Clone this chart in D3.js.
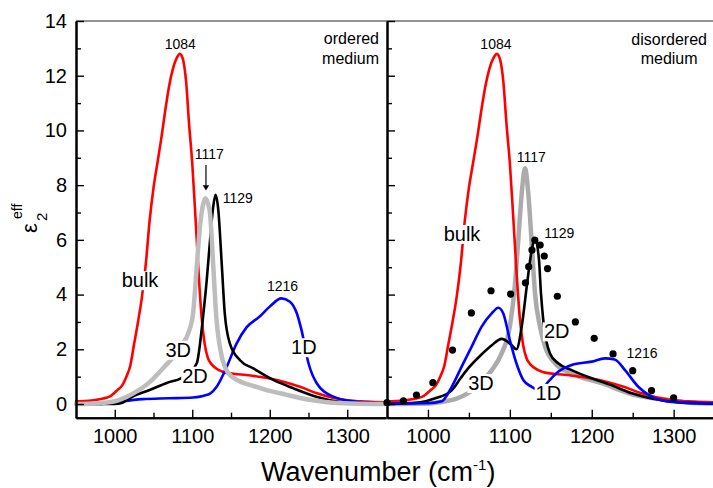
<!DOCTYPE html>
<html>
<head>
<meta charset="utf-8">
<script src="https://cdn.jsdelivr.net/npm/d3@7"></script>
<style>
  html, body { margin: 0; padding: 0; background: #fff; }
  svg { display: block; }
</style>
</head>
<body>
<div id="chart"></div>
<script>
// ---------------- DATA ----------------
// bulk (same curve in both panels)
const wBulk = [950, 970, 985, 995, 1003, 1010, 1015, 1020, 1025, 1030, 1035, 1040, 1045, 1050, 1055, 1060, 1065, 1070, 1075, 1080, 1084, 1088, 1092, 1096, 1100, 1104, 1108, 1112, 1116, 1120, 1125, 1130, 1140, 1155, 1170, 1185, 1200, 1220, 1240, 1260, 1280, 1300, 1325, 1350];
const vBulk = [0.10, 0.13, 0.2, 0.3, 0.5, 0.7, 1.0, 1.4, 2.2, 3.0, 3.9, 5.1, 6.7, 7.9, 8.8, 9.7, 10.7, 11.6, 12.25, 12.65, 12.8, 12.6, 11.8, 10.2, 8.8, 6.9, 4.9, 3.2, 2.2, 1.7, 1.45, 1.32, 1.17, 1.1, 1.06, 1.0, 0.93, 0.8, 0.62, 0.4, 0.24, 0.14, 0.09, 0.06];

// ordered medium
const wOrd3D = [950, 980, 1000, 1020, 1045, 1062, 1075, 1085, 1095, 1101, 1106, 1110, 1114, 1117, 1120, 1123, 1127, 1131, 1138, 1146, 1160, 1180, 1196, 1220, 1239, 1260, 1282, 1320, 1350];
const vOrd3D = [0.0, 0.03, 0.1, 0.33, 0.8, 1.3, 1.7, 2.1, 2.6, 3.3, 5.1, 6.5, 7.3, 7.52, 7.35, 6.95, 5.1, 3.2, 1.75, 1.15, 0.85, 0.65, 0.51, 0.35, 0.22, 0.12, 0.05, 0.01, 0.0];
const wOrd2D = [950, 1000, 1010, 1023, 1045, 1067, 1086, 1096, 1106, 1110, 1114, 1118.6, 1123, 1127, 1130, 1133.6, 1138, 1142, 1148.7, 1161.6, 1178.8, 1204.6, 1230, 1260, 1290, 1320, 1350];
const vOrd2D = [0.0, 0.0, 0.05, 0.27, 0.51, 0.77, 0.95, 1.15, 1.5, 2.2, 3.2, 4.5, 6.0, 7.2, 7.65, 7.1, 5.14, 3.3, 2.2, 1.6, 1.3, 0.88, 0.58, 0.27, 0.08, 0.02, 0.0];
const wOrd1D = [950, 980, 994, 1010, 1036, 1070, 1101, 1110, 1118, 1123, 1131.5, 1144.5, 1157, 1170, 1187, 1200, 1215, 1226, 1235, 1241, 1250, 1260.6, 1282, 1307, 1342, 1350];
const vOrd1D = [0.0, 0.0, 0.03, 0.1, 0.18, 0.21, 0.24, 0.27, 0.33, 0.38, 0.63, 1.36, 2.2, 2.8, 3.2, 3.56, 3.86, 3.74, 3.31, 2.7, 1.49, 0.76, 0.27, 0.1, 0.03, 0.02];

// disordered medium
const wDis3D = [950, 1000, 1021, 1035, 1049, 1060, 1070, 1078, 1090, 1100, 1106, 1110, 1114.5, 1118.5, 1122.5, 1126.7, 1130.7, 1136.8, 1143, 1155, 1175.5, 1212, 1252.7, 1293, 1320, 1350];
const vDis3D = [0.0, 0.02, 0.1, 0.2, 0.4, 0.65, 0.95, 1.24, 1.85, 2.83, 4.29, 5.87, 7.7, 8.62, 7.7, 5.87, 4.05, 2.83, 2.1, 1.49, 1.12, 0.76, 0.33, 0.15, 0.05, 0.02];
const wDis2D = [950, 988, 1008, 1029, 1040, 1049, 1065, 1078, 1090, 1102, 1108, 1114.5, 1120.6, 1126.7, 1130.7, 1135.6, 1138, 1140.8, 1149, 1159, 1175.5, 1200, 1224, 1248.8, 1273, 1310, 1350];
const vDis2D = [0.0, 0.05, 0.2, 0.5, 0.95, 1.3, 1.8, 2.15, 2.38, 2.16, 2.0, 2.83, 4.29, 5.63, 6.06, 5.26, 4.05, 3.07, 1.85, 1.49, 1.24, 0.94, 0.69, 0.39, 0.2, 0.05, 0.01];
const wDis1D = [950, 1000, 1016.8, 1029, 1041, 1053.4, 1065.6, 1077.8, 1086, 1092, 1100, 1108, 1116.4, 1126.7, 1137, 1147, 1159, 1175.5, 1200, 1216, 1228, 1240.6, 1256.8, 1273, 1297.6, 1350];
const vDis1D = [0.02, 0.03, 0.1, 0.63, 1.36, 2.1, 2.83, 3.31, 3.52, 3.31, 2.34, 1.49, 0.88, 0.63, 0.5, 0.82, 1.18, 1.43, 1.55, 1.67, 1.63, 1.24, 0.63, 0.27, 0.08, 0.02];

// experimental points (disordered panel)
const wExp = [950, 970, 986, 1006, 1030, 1053, 1077, 1101, 1119, 1123, 1127, 1130.5, 1137, 1142, 1146, 1158, 1180, 1203, 1226, 1250, 1273, 1300];
const vExp = [0.05, 0.12, 0.33, 0.78, 1.97, 3.33, 4.14, 4.02, 4.43, 5.02, 5.63, 5.99, 5.81, 5.41, 4.95, 3.94, 3.0, 2.4, 1.83, 1.22, 0.49, 0.23];

// ticks
const xTicks = [1000, 1100, 1200, 1300];
const xMinor = [1050, 1150, 1250];
const yTicks = [0, 2, 4, 6, 8, 10, 12, 14];
const yMinor = [1, 3, 5, 7, 9, 11, 13];

// text
const xTitle = "Wavenumber (cm";
const xTitleSup = "-1";
const panelTitles = [["ordered", "medium"], ["disordered", "medium"]];

// ---------------- LAYOUT ----------------
const W = 713, H = 488;
const FONT = "'Liberation Sans', Arial, Helvetica, sans-serif";
const y = d3.scaleLinear().domain([-0.5, 14]).range([417.7, 21]);
const xL = d3.scaleLinear().domain([950, 1350]).range([76, 386]);
const xR = d3.scaleLinear().domain([950, 1350]).range([387, 714.6]);

const svg = d3.select("#chart").append("svg")
  .attr("width", W).attr("height", H)
  .attr("font-family", FONT);
svg.append("rect").attr("width", W).attr("height", H).attr("fill", "#fff");

const zip = (w, v) => w.map((d, i) => [d, v[i]]);

function drawLine(x, w, v, color, width) {
  const line = d3.line().x(d => x(d[0])).y(d => y(d[1])).curve(d3.curveMonotoneX);
  svg.append("path").datum(zip(w, v))
    .attr("d", line).attr("fill", "none")
    .attr("stroke", color).attr("stroke-width", width)
    .attr("stroke-linejoin", "round").attr("stroke-linecap", "round");
}

// top border
svg.append("line").attr("x1", 76).attr("x2", W).attr("y1", y(14)).attr("y2", y(14))
  .attr("stroke", "#6e6e6e").attr("stroke-width", 1.5);

// ---------- left panel curves ----------
drawLine(xL, wBulk, vBulk, "#ff0000", 2.6);
drawLine(xL, wOrd1D, vOrd1D, "#0000ff", 2.6);
drawLine(xL, wOrd2D, vOrd2D, "#000000", 2.6);
drawLine(xL, wOrd3D, vOrd3D, "#bdbdbd", 4.5);

// ---------- right panel curves ----------
drawLine(xR, wDis3D, vDis3D, "#ababab", 4.5);
drawLine(xR, wBulk, vBulk, "#ff0000", 2.6);
drawLine(xR, wDis2D, vDis2D, "#000000", 2.6);
drawLine(xR, wDis1D, vDis1D, "#0000ff", 2.6);

svg.append("g").selectAll("circle").data(zip(wExp, vExp)).join("circle")
  .attr("cx", d => xR(d[0])).attr("cy", d => y(d[1])).attr("r", 3.6).attr("fill", "#000");

// ---------- axes ----------
function styleAxis(g, size) {
  g.attr("font-family", FONT).attr("font-size", size);
  g.select(".domain").attr("stroke", "#000").attr("stroke-width", 2);
  g.selectAll(".tick line").attr("stroke", "#000").attr("stroke-width", 1.4);
  g.selectAll(".tick text").attr("fill", "#000");
}
const fmt = d3.format("d");
// left y
styleAxis(svg.append("g").attr("transform", "translate(76,0)")
  .call(d3.axisLeft(y).tickValues(yTicks).tickSize(-8).tickSizeOuter(0).tickPadding(9).tickFormat(fmt)), 20);
styleAxis(svg.append("g").attr("transform", "translate(76,0)")
  .call(d3.axisLeft(y).tickValues(yMinor).tickSize(-5).tickSizeOuter(0).tickFormat("")), 20);
// right panel y (divider)
styleAxis(svg.append("g").attr("transform", "translate(387,0)")
  .call(d3.axisLeft(y).tickValues(yTicks).tickSize(-8).tickSizeOuter(0).tickFormat("")), 20);
styleAxis(svg.append("g").attr("transform", "translate(387,0)")
  .call(d3.axisLeft(y).tickValues(yMinor).tickSize(-5).tickSizeOuter(0).tickFormat("")), 20);
// bottom axes
[xL, xR].forEach(x => {
  styleAxis(svg.append("g").attr("transform", `translate(0,${y(-0.5)})`)
    .call(d3.axisBottom(x).tickValues(xTicks).tickSize(-8).tickSizeOuter(0).tickPadding(11).tickFormat(fmt)), 20);
  styleAxis(svg.append("g").attr("transform", `translate(0,${y(-0.5)})`)
    .call(d3.axisBottom(x).tickValues(xMinor).tickSize(-5).tickSizeOuter(0).tickFormat("")), 20);
});

// ---------- annotations ----------
const ann = svg.append("g").attr("fill", "#000");
function label(x, wx, vy, txt, size, anchor, bg) {
  const t = ann.append("text").attr("x", x(wx)).attr("y", y(vy))
    .attr("font-size", size).attr("text-anchor", anchor || "middle").text(txt);
  if (bg) {
    const b = t.node().getBBox();
    ann.insert("rect", () => t.node())
      .attr("x", b.x - 1).attr("y", b.y + 2).attr("width", b.width + 2).attr("height", b.height - 3)
      .attr("fill", "#fff");
  }
  return t;
}
// left
label(xL, 1084.5, 12.97, "1084", 14);
label(xL, 1122, 8.94, "1117", 14);
label(xL, 1139.3, 7.34, "1129", 14, "start");
label(xL, 1216.5, 4.13, "1216", 14);
label(xL, 1032.6, 4.27, "bulk", 20, "middle", true);
label(xL, 1082, 1.73, "3D", 20, "middle", true);
label(xL, 1103.5, 0.78, "2D", 20, "middle", true);
label(xL, 1244, 1.82, "1D", 20, "middle", true);
label(xL, 1341, 13.16, panelTitles[0][0], 16, "end");
label(xL, 1341, 12.43, panelTitles[0][1], 16, "end");
// arrow 1117
const ax = xL(1117.7);
ann.append("line").attr("x1", ax).attr("x2", ax).attr("y1", y(8.74)).attr("y2", y(7.98))
  .attr("stroke", "#000").attr("stroke-width", 1.2);
ann.append("path")
  .attr("d", `M${ax - 3.2},${y(8.0)} L${ax + 3.2},${y(8.0)} L${ax},${y(7.8)} Z`).attr("fill", "#000");
// right
label(xR, 1083, 12.97, "1084", 14);
label(xR, 1126.2, 8.86, "1117", 14);
label(xR, 1142, 6.07, "1129", 14, "start");
label(xR, 1261.4, 1.67, "1216", 14);
label(xR, 1041.6, 5.96, "bulk", 20, "middle", true);
label(xR, 1157.2, 2.4, "2D", 20, "middle", true);
label(xR, 1064.8, 0.51, "3D", 20, "middle", true);
label(xR, 1147, 0.15, "1D", 20, "middle", true);
label(xR, 1294.5, 13.12, panelTitles[1][0], 16, "middle");
label(xR, 1294.5, 12.43, panelTitles[1][1], 16, "middle");

// ---------- axis titles ----------
const xt = svg.append("text").attr("x", 261).attr("y", 481).attr("font-size", 27).attr("fill", "#000");
xt.append("tspan").text(xTitle);
xt.append("tspan").attr("font-size", 15).attr("dy", -11).text(xTitleSup);
xt.append("tspan").attr("dy", 11).text(")");

const yt = svg.append("g").attr("transform", "translate(37,233) rotate(-90)").attr("fill", "#000");
yt.append("text").attr("x", 0).attr("y", 0).attr("font-size", 22).text("ε");
yt.append("text").attr("x", 12).attr("y", 10).attr("font-size", 15).text("2");
yt.append("text").attr("x", 14).attr("y", -15).attr("font-size", 14).text("eff");
</script>
</body>
</html>
